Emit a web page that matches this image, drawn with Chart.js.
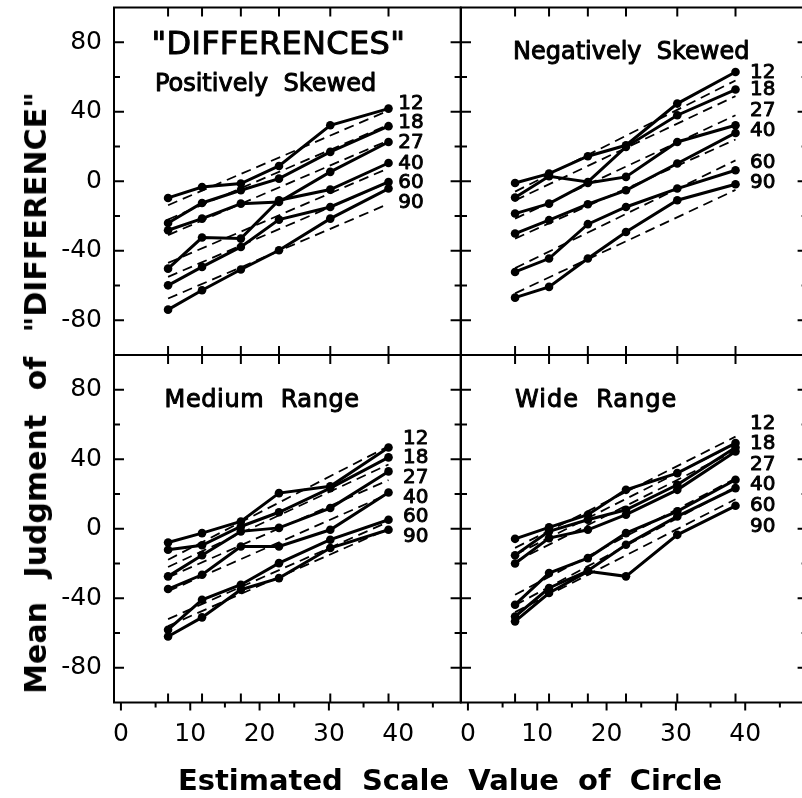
<!DOCTYPE html>
<html>
<head>
<meta charset="utf-8">
<script src="https://cdn.jsdelivr.net/npm/chart.js@4.4.1/dist/chart.umd.min.js"></script>
<style>
  html, body { margin: 0; padding: 0; background: #fff; overflow: hidden; }
  #page { position: relative; width: 802px; height: 798px; overflow: hidden; background: #fff; }
  #page canvas { position: absolute; left: 0; top: 0; }
  .title { position: absolute; font-family: "DejaVu Sans", sans-serif; font-weight: bold; font-size: 29px;
           white-space: pre; color: #000; line-height: 1; word-spacing: 9px; }
  #ytitle { left: 36px; top: 393px; transform: translate(-50%, -50%) rotate(-90deg); word-spacing: 14px; font-size: 30px; }
  #xtitle { left: 450px; top: 780px; transform: translate(-50%, -50%); }
</style>
</head>
<body>
<div id="page">
  <canvas id="tl" width="820" height="798"></canvas>
  <canvas id="tr" width="820" height="798"></canvas>
  <canvas id="bl" width="820" height="798"></canvas>
  <canvas id="br" width="820" height="798"></canvas>
  <div class="title" id="ytitle">Mean Judgment of "DIFFERENCE"</div>
  <div class="title" id="xtitle">Estimated Scale Value of Circle</div>
</div>
<script>
// estimated scale values of the six circles (x positions of the points)
const xs = [6.8, 11.7, 17.3, 22.8, 30.2, 38.6]
const seriesNames = ['12', '18', '27', '40', '60', '90']
const yTicks = [-80, -40, 0, 40, 80]
const xTicks = [0, 10, 20, 30, 40]

// Positively skewed (one row per series 12..90)
const posSkewed = [
  [-9.6, -3.3, -1.3, 8.8, 32.2, 41.8],
  [-24.0, -12.5, -5.2, 1.5, 16.9, 31.7],
  [-28.2, -21.5, -12.9, -11.9, 5.4, 22.6],
  [-50.3, -32.4, -33.0, -10.9, -4.8, 10.5],
  [-59.9, -49.3, -37.8, -22.1, -14.8, -0.4],
  [-73.9, -62.7, -50.8, -39.7, -21.5, -4.2]
]
const posFitStart = [-13.8, -22, -31, -47, -55, -67.5]
const posFitEnd = [40.7, 32.5, 23.5, 7.5, -0.5, -13]
const posLabelY = [44.7, 33.8, 22.3, 10.2, -0.8, -12.3]

// Negatively skewed
const negSkewed = [
  [-1.0, 4.4, 14.4, 20.7, 44.7, 62.9],
  [-9.4, 2.9, -0.4, 19.8, 38.0, 52.8],
  [-18.6, -12.9, -1.0, 2.5, 22.6, 32.2],
  [-30.1, -22.4, -13.2, -5.2, 10.2, 27.8],
  [-52.2, -44.5, -24.7, -14.8, -4.2, 6.3],
  [-67.0, -60.8, -44.5, -29.2, -10.9, -1.7]
]
const negFitStart = [-6, -11, -21.5, -33, -50, -64.5]
const negFitEnd = [58, 49, 38, 24, 12, -5]
const negLabelY = [62.5, 52.9, 40.5, 29.0, 10.8, -0.8]

// Medium range
const medRange = [
  [-7.9, -2.5, 4.2, 20.5, 24.4, 46.8],
  [-12.1, -9.5, 1.3, 9.5, 23.4, 41.1],
  [-27.4, -15.2, -1.5, 0.5, 11.9, 33.0],
  [-34.7, -26.5, -10.2, -10.2, -0.6, 20.9],
  [-58.1, -40.9, -32.2, -19.8, -6.3, 5.2],
  [-62.0, -51.0, -35.1, -28.4, -11.1, -0.6]
]
const medFitStart = [-17.8, -22, -28, -36, -52, -56]
const medFitEnd = [47.5, 37, 28, 20, 4, 0]
const medLabelY = [51.8, 40.9, 29.2, 17.7, 6.7, -4.8]

// Wide range
const wideRange = [
  [-5.8, 0.8, 8.1, 22.4, 32.0, 49.3],
  [-15.3, -1.5, 5.2, 10.9, 25.3, 46.8],
  [-20.0, -5.4, -0.6, 8.1, 22.4, 44.5],
  [-43.7, -25.5, -16.9, -2.5, 10.0, 28.2],
  [-50.5, -34.1, -24.2, -9.2, 7.1, 23.4],
  [-53.3, -37.0, -24.5, -27.4, -3.5, 13.2]
]
const wideFitStart = [-11, -15, -19, -38, -44, -48]
const wideFitEnd = [53, 49, 45, 29, 24, 17]
const wideLabelY = [60.4, 48.9, 36.8, 25.3, 13.4, 1.0]

const FONT = '"DejaVu Sans", sans-serif'

function line(ctx, x1, y1, x2, y2) {
    ctx.beginPath()
    ctx.moveTo(x1, y1)
    ctx.lineTo(x2, y2)
    ctx.stroke()
}

// frame round the panel, with the ticks pointing inwards
const framePlugin = {
    id: 'frame',
    afterDatasetsDraw(chart, args, opts) {
        const { ctx, chartArea: a, scales: { x, y } } = chart
        ctx.save()
        ctx.strokeStyle = '#000'
        ctx.lineWidth = 2
        ctx.strokeRect(a.left, a.top, a.right - a.left, a.bottom - a.top)
        for (let v = -80; v <= 80; v += 20) {
            const py = y.getPixelForValue(v)
            const len = v % 40 === 0 ? 10 : 6
            line(ctx, a.left, py, a.left + len, py)
            line(ctx, a.right, py, a.right - len, py)
        }
        for (const v of xs) {
            const px = x.getPixelForValue(v)
            line(ctx, px, a.top, px, a.top + 9)
            line(ctx, px, a.bottom, px, a.bottom - 9)
        }
        if (opts.bottomAxis) {
            for (let v = 0; v <= 45; v += 5) {
                const px = x.getPixelForValue(v)
                line(ctx, px, a.bottom, px, a.bottom + (v % 10 === 0 ? 8 : 5))
            }
        }
        ctx.restore()
    }
}

// heavy lettering, like the inked originals
function inkText(ctx, text, px, py, weight) {
    ctx.fillText(text, px, py)
    ctx.lineWidth = weight
    ctx.strokeText(text, px, py)
}

// panel titles and the 12..90 labels
const textPlugin = {
    id: 'panelText',
    afterDraw(chart, args, opts) {
        const { ctx, scales: { x, y } } = chart
        ctx.save()
        ctx.fillStyle = '#000'
        ctx.strokeStyle = '#000'
        ctx.lineJoin = 'round'
        ctx.textAlign = 'left'
        ctx.textBaseline = 'middle'
        for (const t of opts.titles) {
            ctx.font = t.size + 'px ' + FONT
            ctx.letterSpacing = t.spacing || '0px'
            inkText(ctx, t.text, x.getPixelForValue(t.x), y.getPixelForValue(t.y), 1)
        }
        ctx.letterSpacing = '0px'
        ctx.font = '20px ' + FONT
        seriesNames.forEach((n, i) => {
            inkText(ctx, n, x.getPixelForValue(opts.labelX), y.getPixelForValue(opts.labelY[i]), 0.9)
        })
        ctx.restore()
    }
}

function buildDatasets(rows, fitStart, fitEnd) {
    const fits = fitStart.map((s, i) => ({
        data: [{ x: xs[0], y: s }, { x: xs[xs.length - 1], y: fitEnd[i] }],
        borderColor: '#000',
        borderWidth: 1.8,
        borderDash: [10, 6],
        pointRadius: 0
    }))
    const solid = rows.map((r, i) => ({
        label: seriesNames[i],
        data: r.map((v, j) => ({ x: xs[j], y: v })),
        borderColor: '#000',
        borderWidth: 3,
        pointRadius: 4.3,
        pointBackgroundColor: '#000',
        pointBorderWidth: 0
    }))
    return [...solid, ...fits]
}

function panel(id, rows, fitStart, fitEnd, labelY, labelX, titles, showY, showX, padding) {
    return new Chart(document.getElementById(id), {
        type: 'line',
        data: { datasets: buildDatasets(rows, fitStart, fitEnd) },
        options: {
            responsive: false,
            animation: false,
            layout: { padding },
            elements: { line: { tension: 0 } },
            plugins: {
                legend: { display: false },
                tooltip: { enabled: false },
                frame: { bottomAxis: showX },
                panelText: { titles, labelY, labelX }
            },
            scales: {
                x: {
                    type: 'linear', min: -1, max: 49, display: showX,
                    grid: { display: false, drawTicks: false }, border: { display: false },
                    afterBuildTicks: s => { s.ticks = xTicks.map(v => ({ value: v })) },
                    afterFit: s => {
                        s.height = showX ? 95.5 : 0
                        s.paddingLeft = 0
                        s.paddingRight = 0
                    },
                    ticks: { color: '#000', font: { family: FONT, size: 25 }, padding: 17, autoSkip: false, maxRotation: 0 }
                },
                y: {
                    type: 'linear', min: -100, max: 100, display: showY,
                    grid: { display: false, drawTicks: false }, border: { display: false },
                    afterBuildTicks: s => { s.ticks = yTicks.map(v => ({ value: v })) },
                    afterFit: s => {
                        s.width = showY ? 114 : 0
                        s.paddingTop = 0
                        s.paddingBottom = 0
                    },
                    ticks: { color: '#000', font: { family: FONT, size: 25 }, padding: 12, autoSkip: false }
                }
            }
        },
        plugins: [framePlugin, textPlugin]
    })
}

panel('tl', posSkewed, posFitStart, posFitEnd, posLabelY, 40.0,
    [{ text: '"DIFFERENCES"', x: 4.4, y: 77.8, size: 32, spacing: '0.3px' },
     { text: 'Positively  Skewed', x: 4.9, y: 55.3, size: 24 }],
    true, false, { left: 0, top: 7.5, right: 359.4, bottom: 443 })

panel('tr', negSkewed, negFitStart, negFitEnd, negLabelY, 40.7,
    [{ text: 'Negatively  Skewed', x: 6.5, y: 74.2, size: 24 }],
    false, false, { left: 461, top: 7.5, right: 12.4, bottom: 443 })

panel('bl', medRange, medFitStart, medFitEnd, medLabelY, 40.7,
    [{ text: 'Medium  Range', x: 6.3, y: 73.7, size: 24, spacing: '0.6px' }],
    true, true, { left: 0, top: 355, right: 359.4, bottom: 0 })

panel('br', wideRange, wideFitStart, wideFitEnd, wideLabelY, 40.7,
    [{ text: 'Wide  Range', x: 6.8, y: 73.7, size: 24, spacing: '1px' }],
    false, true, { left: 461, top: 355, right: 12.4, bottom: 0 })
</script>
</body>
</html>
